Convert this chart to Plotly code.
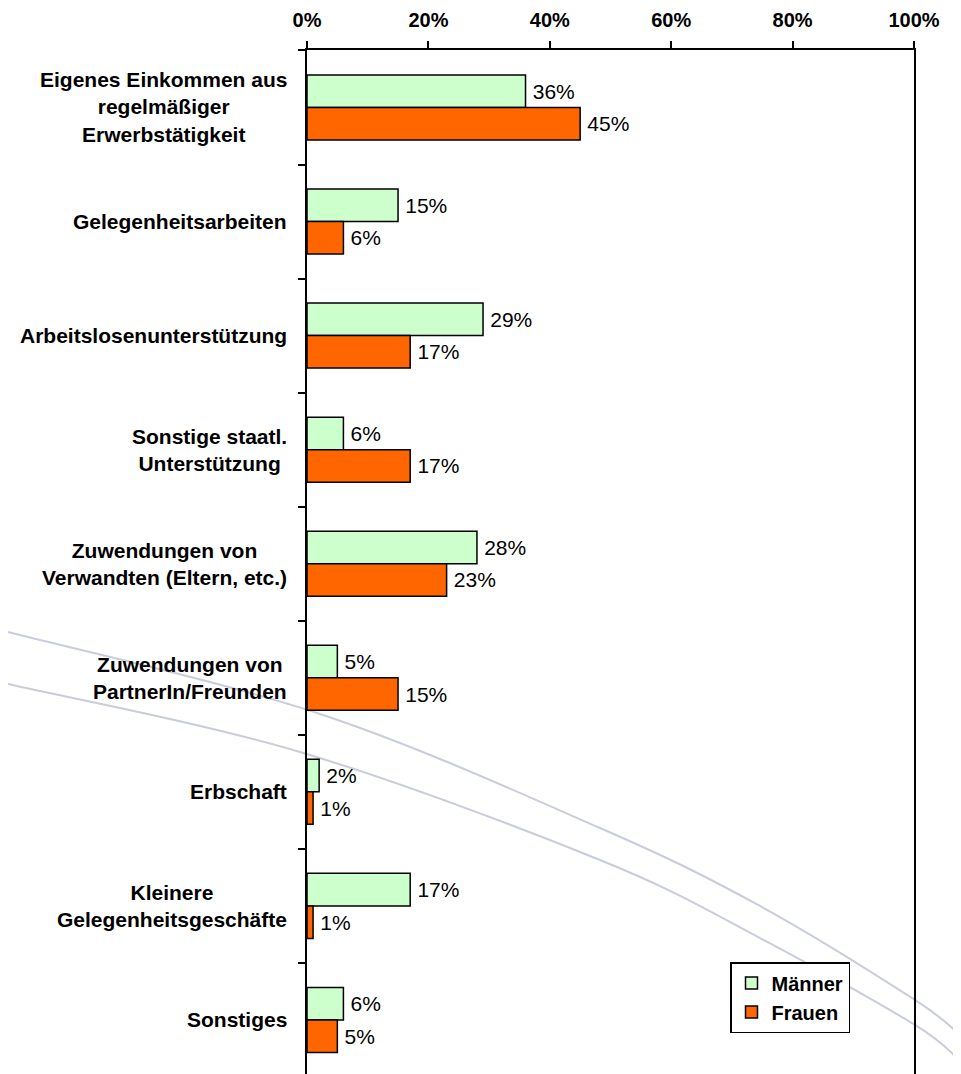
import plotly.graph_objects as go

categories = [
    "Eigenes Einkommen aus<br>regelmäßiger<br>Erwerbstätigkeit",
    "Gelegenheitsarbeiten",
    "Arbeitslosenunterstützung",
    "Sonstige staatl.<br>Unterstützung",
    "Zuwendungen von<br>Verwandten (Eltern, etc.)",
    "Zuwendungen von<br>PartnerIn/Freunden",
    "Erbschaft",
    "Kleinere<br>Gelegenheitsgeschäfte",
    "Sonstiges",
]
maenner = [36, 15, 29, 6, 28, 5, 2, 17, 6]
frauen = [45, 6, 17, 17, 23, 15, 1, 1, 5]
x_tickvals = [0, 20, 40, 60, 80, 100]
x_ticktext = ["0%", "20%", "40%", "60%", "80%", "100%"]

# page geometry (the browser body has an 8px margin)
PAGE_W, PAGE_H, OFF = 961, 1074, 8
PLOT_L, PLOT_R, PLOT_T, PLOT_B = 307, 914, 50, 1074
W, H = PAGE_W - OFF, PAGE_H - OFF
ML, MT = PLOT_L - OFF, PLOT_T - OFF
MR, MB = PAGE_W - PLOT_R, PAGE_H - PLOT_B
FONT = "Arial, Liberation Sans, sans-serif"

idx = list(range(len(categories)))

fig = go.Figure()
for name, vals, col in (("Männer", maenner, "#CCFFCC"), ("Frauen", frauen, "#FF6600")):
    fig.add_trace(go.Bar(
        name=name, y=idx, x=vals, orientation="h",
        marker=dict(color=col, line=dict(color="black", width=1.5)),
        text=[f"\u2009{v}%" for v in vals], textposition="outside",
        textfont=dict(family=FONT, size=21, color="black"), cliponaxis=False,
    ))

# category labels (centered multi-line, like the original)
for i, c in enumerate(categories):
    fig.add_annotation(
        x=0, xref="paper", y=i, yref="y", text=c, showarrow=False,
        xanchor="right", yanchor="middle", align="center", xshift=-18,
        font=dict(family=FONT, size=21, color="black", weight="bold"),
    )

# decorative background arcs (page pixels -> paper), smoothed Catmull-Rom
pw, ph = PLOT_R - PLOT_L, PLOT_B - PLOT_T
def tp(p):
    return ((p[0] - PLOT_L) / pw, (PLOT_B - p[1]) / ph)

def smooth_path(pts):
    pts = [tp(p) for p in pts]
    d = f"M {pts[0][0]:.4f},{pts[0][1]:.4f}"
    for i in range(len(pts) - 1):
        p0 = pts[i - 1] if i > 0 else pts[i]
        p1, p2 = pts[i], pts[i + 1]
        p3 = pts[i + 2] if i + 2 < len(pts) else pts[i + 1]
        c1 = (p1[0] + (p2[0] - p0[0]) / 6, p1[1] + (p2[1] - p0[1]) / 6)
        c2 = (p2[0] - (p3[0] - p1[0]) / 6, p2[1] - (p3[1] - p1[1]) / 6)
        d += f" C {c1[0]:.4f},{c1[1]:.4f} {c2[0]:.4f},{c2[1]:.4f} {p2[0]:.4f},{p2[1]:.4f}"
    return d

arc_upper = [(8, 632), (320, 714), (600, 828), (760, 906), (915, 1000), (961, 1036)]
arc_lower = [(8, 684), (300, 752), (600, 860), (760, 938), (915, 1025), (961, 1062)]
for arc in (arc_upper, arc_lower):
    fig.add_shape(type="path", path=smooth_path(arc), xref="paper", yref="paper",
                  line=dict(color="#C9CCDA", width=2), layer="below")

fig.update_layout(
    width=W, height=H,
    margin=dict(l=ML, r=MR, t=MT, b=MB, pad=0),
    paper_bgcolor="white", plot_bgcolor="rgba(0,0,0,0)",
    barmode="group", bargap=0.43, bargroupgap=0,
    font=dict(family=FONT, color="black"),
    legend=dict(
        x=(730 - PLOT_L) / pw, y=(PLOT_B - 962) / ph, xanchor="left", yanchor="top",
        bgcolor="white", bordercolor="black", borderwidth=1.5,
        font=dict(family=FONT, size=20, color="black", weight="bold"),
        traceorder="normal", itemwidth=30,
    ),
    xaxis=dict(
        side="top", range=[0, 100], tickvals=x_tickvals, ticktext=x_ticktext,
        showgrid=False, zeroline=False, showline=True, linecolor="black", linewidth=1.5,
        ticks="outside", ticklen=7, tickwidth=1.5, tickcolor="black",
        tickfont=dict(family=FONT, size=20, color="black", weight="bold"),
        ticklabelstandoff=6,
    ),
    yaxis=dict(
        type="linear", range=[8.474, -0.504], tickvals=[i + 0.5 for i in idx[:-1]] + [-0.5],
        ticktext=[""] * len(idx), showgrid=False, zeroline=False,
        showline=True, linecolor="black", linewidth=1.5, mirror=True,
        ticks="outside", ticklen=7, tickwidth=1.5, tickcolor="black",
    ),
)

fig.write_html("out.html")
